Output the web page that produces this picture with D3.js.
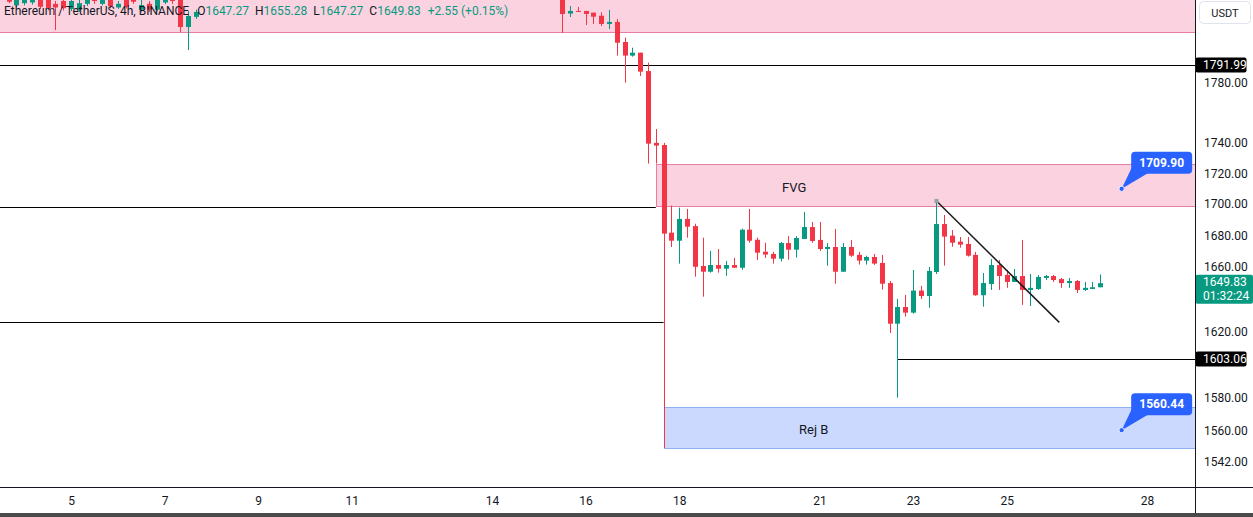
<!DOCTYPE html>
<html><head><meta charset="utf-8">
<script src="https://cdn.jsdelivr.net/npm/d3@7"></script>
<style>
html,body{margin:0;padding:0;background:#fff;overflow:hidden}
svg{display:block;font-family:Roboto,"Noto Sans",sans-serif}
</style></head><body>
<svg id="c" width="1253" height="517"></svg>
<script>
// ---------------- DATA ----------------
const dayTicks = [5, 7, 9, 11, 14, 16, 18, 21, 23, 25, 28];
const priceTicks = [1780, 1740, 1720, 1700, 1680, 1660, 1620, 1580, 1560, 1542];

// 4h candles, Aug 3 16:00 .. Aug 7 16:00 (only lower parts visible)
const earlyStart = "2023-08-03T16:00";
const earlyOpen  = [1840.0,1833.0,1834.5,1835.0,1841.0,1838.0,1834.0,1836.0,1830.5,1830.0,1834.0,1840.0,1834.0,1840.0,1831.5,1840.0,1838.0,1830.0,1834.0,1830.0,1835.0,1840.0,1842.0,1818.0,1825.0];
const earlyHigh  = [1843.0,1841.0,1842.0,1843.0,1844.0,1840.0,1836.0,1838.0,1838.0,1837.0,1842.0,1842.0,1841.0,1842.0,1836.0,1842.0,1840.0,1837.0,1836.0,1840.0,1843.0,1842.0,1845.0,1829.0,1830.0];
const earlyLow   = [1834.5,1831.5,1833.0,1833.5,1830.5,1829.5,1815.9,1829.5,1829.0,1828.5,1832.5,1834.0,1833.0,1831.0,1830.5,1830.8,1834.0,1828.5,1828.5,1829.0,1833.8,1834.0,1814.6,1802.2,1823.6];
const earlyClose = [1835.5,1838.0,1839.0,1840.0,1832.0,1831.2,1831.5,1831.0,1836.0,1834.5,1839.0,1836.0,1839.0,1832.5,1834.0,1832.0,1835.5,1833.2,1830.0,1838.0,1840.0,1836.0,1818.0,1825.6,1828.4];

// 4h candles, Aug 15 12:00 .. Aug 27 00:00
const mainStart = "2023-08-15T12:00";
const mainOpen  = [1842.0,1827.3,1829.1,1829.1,1827.9,1825.8,1820.1,1821.5,1807.7,1798.4,1800.4,1787.9,1739.9,1738.5,1681.7,
  1676.6,1690.5,1685.9,1660.6,1657.0,1661.2,1658.9,1661.2,1659.5,1683.6,1677.2,
  1669.6,1668.2,1665.2,1675.1,1670.9,1677.7,1685.3,1677.1,1671.3,1672.6,1657.0,1672.6,1667.6,1664.0,1666.3,1662.5,1649.9,1624.7,1635.0,1631.5,1645.2,1641.8,1656.8,1687.2,1679.8,1676.0,
  1674.5,1667.6,1642.3,1649.3,1661.2,1655.0,1650.6,1654.3,1645.6,1646.2,1653.1,1654.3,1652.4,1649.9,1651.2,1645.6,1646.2,1647.27];
const mainHigh  = [1845.0,1832.5,1831.8,1829.1,1827.9,1828.2,1829.8,1823.5,1810.7,1803.8,1800.4,1793.6,1749.1,1739.9,1699.0,
  1697.7,1696.9,1687.4,1678.5,1670.1,1671.3,1663.8,1665.7,1684.2,1696.9,1678.5,
  1675.3,1669.6,1675.8,1679.5,1679.5,1694.9,1688.5,1688.5,1675.1,1684.1,1675.1,1677.1,1669.5,1667.1,1668.2,1667.6,1651.2,1640.0,1642.5,1658.1,1648.1,1660.0,1702.0,1693.0,1683.4,1678.9,
  1678.9,1669.5,1656.2,1665.0,1664.4,1658.1,1658.7,1677.1,1655.6,1655.0,1655.0,1655.0,1653.1,1653.1,1651.8,1650.6,1650.6,1655.28];
const mainLow   = [1813.9,1824.9,1828.4,1819.4,1820.1,1818.7,1816.6,1798.4,1780.1,1797.7,1784.6,1726.3,1726.3,1550.0,1672.6,
  1662.1,1678.5,1653.9,1641.4,1656.4,1656.4,1654.5,1659.5,1658.2,1675.3,1664.4,
  1665.7,1662.1,1663.4,1664.6,1665.9,1677.7,1675.3,1670.1,1660.8,1649.5,1657.0,1666.3,1661.5,1661.5,1661.3,1645.8,1619.0,1579.8,1629.0,1630.9,1640.0,1634.6,1655.6,1660.8,1672.8,1672.2,
  1666.5,1642.0,1635.2,1645.6,1645.6,1646.9,1650.6,1636.3,1635.6,1645.6,1651.8,1650.6,1646.9,1646.9,1643.7,1645.0,1646.2,1647.27];
const mainClose = [1827.0,1829.1,1828.4,1827.0,1825.1,1820.1,1821.5,1807.2,1798.4,1800.4,1787.5,1739.4,1738.1,1681.1,1676.6,
  1690.5,1685.5,1660.1,1657.0,1661.2,1658.9,1661.2,1659.5,1683.6,1676.6,1669.0,
  1667.8,1665.2,1675.1,1670.9,1678.3,1685.3,1676.4,1671.3,1672.6,1657.0,1672.6,1667.1,1664.0,1666.3,1662.1,1649.5,1624.7,1635.0,1631.5,1645.2,1641.8,1657.5,1687.2,1679.2,1675.3,1674.1,
  1667.1,1642.3,1649.9,1661.2,1654.3,1650.6,1654.3,1645.6,1646.9,1653.7,1654.3,1651.8,1649.9,1651.2,1645.6,1646.9,1647.28,1649.83];

// drawings
const levelPrices = [1791.99, 1698.2, 1625.7, 1603.06];
const levelFrom   = [null, null, null, "2023-08-22T16:00"];
const levelTo     = [null, "2023-08-17T12:00", "2023-08-17T16:00", null];
const zoneNames   = ["", "FVG", "Rej B"];
const zoneTop     = [1860, 1726.1, 1574.2];
const zoneBottom  = [1814.6, 1698.8, 1550.0];
const zoneFrom    = [null, "2023-08-17T12:00", "2023-08-17T16:00"];
const zoneLabelAt = [null, "2023-08-20T11:00", "2023-08-20T21:00"];
const trendTimes  = ["2023-08-23T12:00", "2023-08-26T03:00"];
const trendPrices = [1702.0, 1625.5];
const noteTime    = "2023-08-27T11:00";
const notePrices  = [1709.90, 1560.44];
const axisLabels  = [{p:1791.99, t:["1791.99"], c:"#000"}, {p:1603.06, t:["1603.06"], c:"#000"}, {p:1649.83, t:["1649.83","01:32:24"], c:"#089981"}];

// ---------------- CHART ----------------
const W = 1253, H = 517, plotR = 1195, plotB = 487;
const UP = "#089981", DN = "#f23645", TXT = "#131722";
const parse = s => new Date(s);
const svg = d3.select("#c");

const x = d3.scaleTime().domain([new Date(2023,7,5), new Date(2023,7,28)]).range([71, 1147]);
const y = d3.scaleLog().domain([1527.2, 1836.7]).range([plotB, 0]);

function build(start, o, h, l, c) {
  const t0 = parse(start);
  return o.map((v, i) => ({t: d3.timeHour.offset(t0, 4 * i), o: v, h: h[i], l: l[i], c: c[i]}));
}
const candles = build(earlyStart, earlyOpen, earlyHigh, earlyLow, earlyClose)
  .concat(build(mainStart, mainOpen, mainHigh, mainLow, mainClose));

svg.append("defs").append("clipPath").attr("id", "plot")
  .append("rect").attr("x", 0).attr("y", 0).attr("width", plotR).attr("height", plotB);
const g = svg.append("g").attr("clip-path", "url(#plot)");

// zones
const zoneFill = ["rgba(233,30,99,0.2)", "rgba(233,30,99,0.2)", "rgba(41,98,255,0.24)"];
const zoneStroke = ["rgba(222,80,130,0.7)", "rgba(222,80,130,0.7)", "rgba(70,130,240,0.55)"];
zoneNames.forEach((n, i) => {
  const x0 = zoneFrom[i] ? Math.round(x(parse(zoneFrom[i]))) + 0.5 : -5;
  const y0 = Math.round(y(zoneTop[i])) + 0.5, y1 = Math.round(y(zoneBottom[i])) + 0.5;
  g.append("rect").attr("x", x0).attr("y", y0).attr("width", plotR + 10 - x0).attr("height", y1 - y0)
    .attr("fill", zoneFill[i]).attr("stroke", zoneStroke[i]).attr("stroke-width", 1);
  if (n) g.append("text").attr("x", x(parse(zoneLabelAt[i]))).attr("y", (y0 + y1) / 2 + 6)
    .attr("text-anchor", "middle").attr("font-size", 13).attr("fill", TXT).text(n);
});

// horizontal levels
levelPrices.forEach((p, i) => {
  const x0 = levelFrom[i] ? x(parse(levelFrom[i])) : 0;
  const x1 = levelTo[i] ? x(parse(levelTo[i])) : plotR;
  const yy = Math.round(y(p)) + 0.5;
  g.append("line").attr("x1", x0).attr("x2", x1).attr("y1", yy).attr("y2", yy)
    .attr("stroke", "#000").attr("stroke-width", 1);
});

// candles
const step = x(d3.timeHour.offset(new Date(2023,7,10), 4)) - x(new Date(2023,7,10));
const bw = Math.max(1, Math.round(step * 0.66));
const cg = g.append("g");
candles.forEach(d => {
  const xc = Math.round(x(d.t));
  const col = d.c >= d.o ? UP : DN;
  cg.append("line").attr("x1", xc + 0.5).attr("x2", xc + 0.5)
    .attr("y1", y(d.h)).attr("y2", y(d.l)).attr("stroke", col).attr("stroke-width", 1);
  const yt = y(Math.max(d.o, d.c)), yb = y(Math.min(d.o, d.c));
  cg.append("rect").attr("x", xc - Math.floor(bw / 2)).attr("width", bw)
    .attr("y", yt).attr("height", Math.max(1, yb - yt)).attr("fill", col);
});

// trend line
g.append("line")
  .attr("x1", x(parse(trendTimes[0]))).attr("y1", y(trendPrices[0]))
  .attr("x2", x(parse(trendTimes[1]))).attr("y2", y(trendPrices[1]))
  .attr("stroke", "#1c1c1c").attr("stroke-width", 1.5);
g.append("rect").attr("x", x(parse(trendTimes[0])) - 2).attr("y", y(trendPrices[0]) - 2)
  .attr("width", 4).attr("height", 4).attr("fill", "#9aa0a8");

// price notes
notePrices.forEach(p => {
  const px = x(parse(noteTime)), py = y(p);
  const ng = svg.append("g");
  ng.append("path").attr("d", `M${px},${py} L${px + 10},${py - 21} L${px + 27},${py - 16} Z`).attr("fill", "#2962ff");
  ng.append("rect").attr("x", px + 9.5).attr("y", py - 37).attr("width", 61).attr("height", 22)
    .attr("rx", 4).attr("fill", "#2962ff");
  ng.append("text").attr("x", px + 40).attr("y", py - 22).attr("text-anchor", "middle")
    .attr("font-size", 12).attr("font-weight", 700).attr("fill", "#fff").text(p.toFixed(2));
  ng.append("circle").attr("cx", px).attr("cy", py).attr("r", 2.6).attr("fill", "#2962ff")
    .attr("stroke", "#fff").attr("stroke-width", 0.8);
});

// right axis
svg.append("rect").attr("x", plotR).attr("y", 0).attr("width", W - plotR).attr("height", H).attr("fill", "#fff");
const ya = svg.append("g").attr("transform", `translate(${plotR},0)`)
  .call(d3.axisRight(y).tickValues(priceTicks).tickFormat(d3.format(".2f")).tickSize(0).tickPadding(9));
ya.select(".domain").remove();
ya.selectAll("text").attr("font-size", 12).attr("fill", TXT).attr("font-family", "Roboto, sans-serif");

// axis price labels
axisLabels.forEach(a => {
  const yy = y(a.p);
  const h = a.t.length === 1 ? 15 : 29;
  const top = a.t.length === 1 ? yy - 7.5 : yy - 8.5;
  svg.append("rect").attr("x", plotR + 0.5).attr("y", top).attr("width", a.t.length === 1 ? 51 : 57.5)
    .attr("height", h).attr("rx", 2).attr("fill", a.c);
  a.t.forEach((s, j) => svg.append("text").attr("x", plotR + 8).attr("y", top + 11.5 + j * 14)
    .attr("font-size", 12).attr("fill", "#fff").text(s));
});

// USDT button
svg.append("rect").attr("x", 1199.5).attr("y", 1.5).attr("width", 51).attr("height", 22).attr("rx", 4)
  .attr("fill", "#fff").attr("stroke", "#e0e3eb");
svg.append("text").attr("x", 1225).attr("y", 16.5).attr("text-anchor", "middle")
  .attr("font-size", 11).attr("fill", TXT).text("USDT");

// bottom axis
svg.append("rect").attr("x", 0).attr("y", plotB).attr("width", W).attr("height", H - plotB).attr("fill", "#fff");
const xa = svg.append("g").attr("transform", `translate(0,${plotB})`)
  .call(d3.axisBottom(x).tickValues(dayTicks.map(d => new Date(2023, 7, d))).tickFormat(d3.timeFormat("%-d")).tickSize(0).tickPadding(9));
xa.select(".domain").remove();
xa.selectAll("text").attr("font-size", 12).attr("fill", TXT).attr("font-family", "Roboto, sans-serif");

svg.append("line").attr("x1", 0).attr("x2", W).attr("y1", plotB + 0.5).attr("y2", plotB + 0.5).attr("stroke", "#131722");
svg.append("line").attr("x1", plotR + 0.5).attr("x2", plotR + 0.5).attr("y1", 0).attr("y2", H).attr("stroke", "#131722");
svg.append("rect").attr("x", 0).attr("y", 513).attr("width", W).attr("height", 4).attr("fill", "#4a4a4a");

// header legend
const hdr = svg.append("text").attr("x", 4).attr("y", 15).attr("font-size", 12).attr("fill", TXT);
const lastC = candles[candles.length - 1], prevC = candles[candles.length - 2];
const chg = lastC.c - prevC.c;
hdr.append("tspan").text("Ethereum / TetherUS, 4h, BINANCE");
[["O", lastC.o], ["H", lastC.h], ["L", lastC.l], ["C", lastC.c]].forEach(([k, v], i) => {
  hdr.append("tspan").attr("dx", i === 0 ? 8 : 6).text(k);
  hdr.append("tspan").attr("fill", UP).text(v.toFixed(2));
});
hdr.append("tspan").attr("dx", 7).attr("fill", UP)
  .text(`+${chg.toFixed(2)} (+${(chg / prevC.c * 100).toFixed(2)}%)`);
</script>
</body></html>
